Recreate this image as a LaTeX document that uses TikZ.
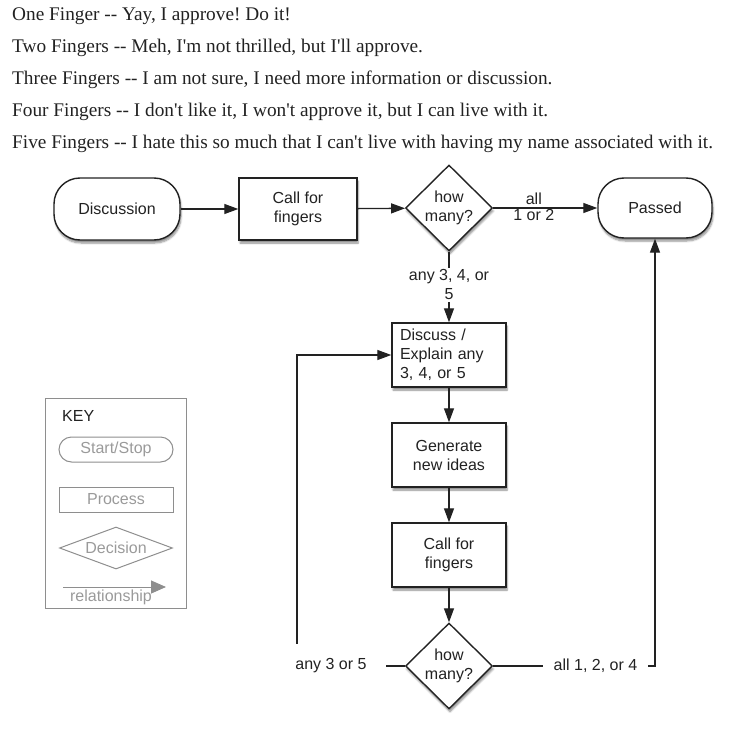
\documentclass[tikz,border=0pt]{standalone}
\usepackage{fontspec}
\setmainfont{Liberation Serif}
\setsansfont{Liberation Sans}
\usetikzlibrary{shapes.geometric,arrows.meta,shadows.blur}
\definecolor{ink}{HTML}{222222}
\definecolor{keygray}{HTML}{8E8E8E}
\definecolor{keytext}{HTML}{9A9A9A}
\frenchspacing
\newcommand{\ap}{\textquotesingle}
\begin{document}
\begin{tikzpicture}[x=1pt,y=-1pt,
  hdr/.style={anchor=base west,inner sep=0pt,font=\fontsize{19.3}{19.3}\selectfont,text=ink},
  sh/.style={blur shadow={shadow xshift=1pt,shadow yshift=-3pt,shadow blur steps=6,shadow opacity=45}},
  base/.style={draw=ink,line width=1.4pt,fill=white,text=ink,font=\sffamily\fontsize{16}{19}\selectfont,align=center,sh},
  startstop/.style={base,rectangle,rounded corners=26pt,minimum width=126pt,minimum height=62pt},
  procbox/.style={base,rectangle,minimum width=118pt,minimum height=62pt},
  decision/.style={base,diamond,inner sep=0pt,minimum width=87pt,minimum height=86pt},
  arr/.style={draw=ink,line width=1.3pt,-{Triangle[length=14pt,width=10pt]}},
  lab/.style={font=\sffamily\fontsize{16}{19}\selectfont,text=ink,align=center},
  keyshape/.style={draw=keygray,line width=1pt,text=keytext,font=\sffamily\fontsize{16}{19}\selectfont},
]
\useasboundingbox (0,0) rectangle (729,733);

% header lines
\node[hdr] (h1) at (12,21) {One Finger -{}- Yay, I approve! Do it!};
\node[hdr] (h2) at (12,53) {Two Fingers -{}- Meh, I\ap m not thrilled, but I\ap ll approve.};
\node[hdr] (h3) at (12,85) {Three Fingers -{}- I am not sure, I need more information or discussion.};
\node[hdr] (h4) at (12,117) {Four Fingers -{}- I don\ap t like it, I won\ap t approve it, but I can live with it.};
\node[hdr] (h5) at (12,149) {Five Fingers -{}- I hate this so much that I can\ap t live with having my name associated with it.};

% main flow
\node[startstop] (disc) at (117,209) {Discussion};
\node[procbox] (cf1) at (298,209) {Call for\\fingers};
\node[decision] (d1) at (449,208) {how\\many?};
\node[startstop,minimum width=114pt,minimum height=60pt] (passed) at (655,208) {Passed};

\node[procbox,minimum width=114pt,minimum height=64pt,align=left,text width=98pt] (dx1) at (449,355) {Discuss /\\Explain any\\3, 4, or 5};
\node[procbox,minimum width=114pt,minimum height=64pt] (gen) at (449,455) {Generate\\new ideas};
\node[procbox,minimum width=114pt,minimum height=64pt] (cf2) at (449,555) {Call for\\fingers};
\node[decision] (d2) at (449,666) {how\\many?};

\draw[arr] (disc) -- (cf1);
\draw[arr] (cf1) -- (d1);
\draw[arr] (d1) -- node[lab,pos=0.39,above,inner sep=2.5pt] (lall) {all} node[lab,pos=0.39,below,inner sep=1pt] (l12) {1 or 2} (passed);
\draw[arr] (d1) -- node[lab,pos=0.47,fill=white,inner sep=2pt] (l345) {any 3, 4, or\\5} (dx1);
\draw[arr] (dx1) -- (gen);
\draw[arr] (gen) -- (cf2);
\draw[arr] (cf2) -- (d2);

\coordinate (lc) at (297,666);
\coordinate (rc) at (655,666);
\draw[arr] (d2.west) -- (lc) |- (dx1.west);
\draw[arr] (d2.east) -- (rc) -- (passed.south);
\node[lab,fill=white,inner xsep=19pt,minimum height=44pt] (l35) at (331,666) {any 3 or 5};
\node[lab,fill=white,inner xsep=11pt,inner ysep=3pt] (l124) at (595.5,666) {all 1, 2, or 4};

% key
\node[draw=keygray,line width=1pt,minimum width=141pt,minimum height=210pt] (key) at (116,503) {};
\node[anchor=base west,inner sep=0pt,font=\sffamily\fontsize{16}{19}\selectfont,text=ink] (keyt) at (62,421) {KEY};
\node[keyshape,rectangle,rounded corners=12.5pt,minimum width=114pt,minimum height=25pt] (kss) at (116,449.5) {Start/Stop};
\node[keyshape,rectangle,minimum width=114pt,minimum height=25pt] (kpr) at (116,499.5) {Process};
\node[keyshape,diamond,aspect=2.8,inner sep=0pt,minimum width=113pt,minimum height=42pt] (kde) at (116,548) {Decision};
\coordinate (ka) at (63,587);
\coordinate (kb) at (166,587);
\draw[draw=keygray,line width=1pt,-{Triangle[length=15pt,width=13pt,fill=keygray]}] (ka) -- (kb);
\node[inner sep=0pt,font=\sffamily\fontsize{16}{19}\selectfont,text=keytext] (krel) at (111,597) {relationship};
\end{tikzpicture}
\end{document}
